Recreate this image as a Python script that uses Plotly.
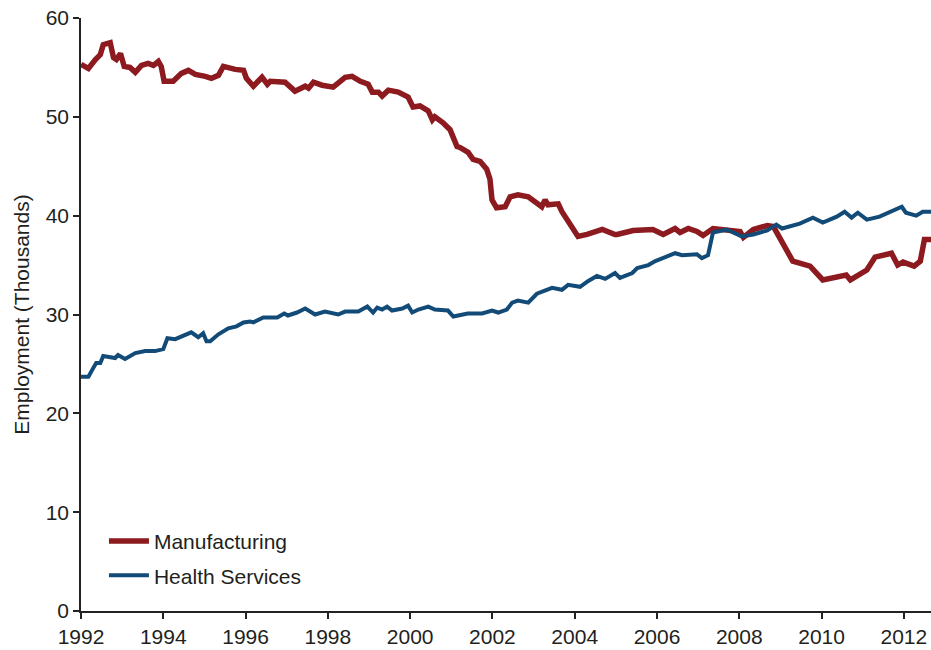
import plotly.graph_objects as go

# Manufacturing employment (thousands), decimal years
manufacturing_years = [
    1992.0, 1992.18, 1992.35, 1992.47, 1992.54, 1992.71, 1992.79, 1992.86, 1992.96, 1993.05,
    1993.19, 1993.32, 1993.47, 1993.63, 1993.76, 1993.88, 1993.95, 1994.02, 1994.24, 1994.44,
    1994.61, 1994.78, 1995.02, 1995.17, 1995.34, 1995.46, 1995.75, 1995.95, 1996.02, 1996.19,
    1996.4, 1996.53, 1996.6, 1996.96, 1997.2, 1997.45, 1997.53, 1997.65, 1997.86, 1998.13,
    1998.42, 1998.59, 1998.79, 1998.98, 1999.08, 1999.23, 1999.32, 1999.47, 1999.71, 1999.95,
    2000.07, 2000.24, 2000.44, 2000.54, 2000.6, 2000.8, 2000.97, 2001.14, 2001.21, 2001.41,
    2001.53, 2001.7, 2001.86, 2001.94, 2001.99, 2002.1, 2002.31, 2002.43, 2002.62, 2002.87,
    2003.2, 2003.28, 2003.35, 2003.6, 2003.69, 2003.84, 2004.08, 2004.3, 2004.49, 2004.67,
    2004.98, 2005.03, 2005.42, 2005.9, 2006.15, 2006.44, 2006.56, 2006.76, 2006.97, 2007.12,
    2007.36, 2007.85, 2008.02, 2008.1, 2008.34, 2008.68, 2008.83, 2009.3, 2009.72, 2010.03,
    2010.3, 2010.6, 2010.7, 2011.1, 2011.3, 2011.7, 2011.85, 2011.98, 2012.25, 2012.4,
    2012.5, 2012.66,
]
manufacturing_values = [
    55.3, 54.9, 55.8, 56.3, 57.3, 57.5, 56.0, 55.8, 56.4, 55.1,
    55.0, 54.5, 55.2, 55.4, 55.2, 55.6, 55.1, 53.6, 53.6, 54.4,
    54.7, 54.3, 54.1, 53.9, 54.2, 55.1, 54.8, 54.7, 53.9, 53.1,
    54.0, 53.3, 53.6, 53.5, 52.6, 53.1, 52.9, 53.5, 53.2, 53.0,
    54.0, 54.1, 53.6, 53.3, 52.5, 52.5, 52.1, 52.7, 52.5, 52.0,
    51.0, 51.1, 50.6, 49.7, 50.0, 49.4, 48.7, 47.0, 46.9, 46.4,
    45.7, 45.5, 44.7, 43.7, 41.6, 40.8, 40.9, 41.9, 42.1, 41.9,
    40.9, 41.6, 41.1, 41.2, 40.4, 39.4, 37.9, 38.1, 38.3, 38.6,
    38.1, 38.1, 38.5, 38.6, 38.1, 38.7, 38.3, 38.7, 38.4, 38.0,
    38.7, 38.5, 38.4, 37.8, 38.6, 39.0, 38.9, 35.4, 34.9, 33.5,
    33.8, 34.0, 33.5, 34.5, 35.8, 36.2, 35.0, 35.3, 34.9, 35.4,
    37.6, 37.6,
]

# Health services employment (thousands), decimal years
health_years = [
    1992.0, 1992.18, 1992.3, 1992.37, 1992.47, 1992.54, 1992.83, 1992.9, 1993.07, 1993.32,
    1993.56, 1993.8, 1994.0, 1994.1, 1994.29, 1994.53, 1994.68, 1994.85, 1994.97, 1995.05,
    1995.14, 1995.34, 1995.58, 1995.78, 1995.95, 1996.11, 1996.19, 1996.43, 1996.77, 1996.94,
    1997.03, 1997.25, 1997.45, 1997.69, 1997.93, 1998.25, 1998.42, 1998.74, 1998.96, 1999.1,
    1999.2, 1999.32, 1999.44, 1999.56, 1999.81, 1999.95, 2000.05, 2000.2, 2000.44, 2000.6,
    2000.92, 2001.05, 2001.4, 2001.75, 2001.99, 2002.14, 2002.35, 2002.48, 2002.62, 2002.87,
    2003.08, 2003.45, 2003.69, 2003.84, 2004.13, 2004.33, 2004.54, 2004.74, 2004.98, 2005.1,
    2005.4, 2005.52, 2005.79, 2005.96, 2006.44, 2006.61, 2006.97, 2007.09, 2007.24, 2007.36,
    2007.7, 2007.85, 2008.06, 2008.34, 2008.68, 2008.9, 2009.04, 2009.47, 2009.79, 2010.03,
    2010.37, 2010.56, 2010.73, 2010.88, 2011.1, 2011.41, 2011.73, 2011.95, 2012.05, 2012.3,
    2012.46, 2012.66,
]
health_values = [
    23.7, 23.7, 24.6, 25.1, 25.1, 25.8, 25.6, 25.9, 25.5, 26.1,
    26.3, 26.3, 26.5, 27.6, 27.5, 28.0, 28.2, 27.7, 28.1, 27.3,
    27.3, 28.0, 28.6, 28.8, 29.2, 29.3, 29.2, 29.7, 29.7, 30.1,
    29.9, 30.2, 30.6, 30.0, 30.3, 30.0, 30.3, 30.3, 30.8, 30.2,
    30.7, 30.5, 30.8, 30.4, 30.6, 30.9, 30.2, 30.5, 30.8, 30.5,
    30.4, 29.8, 30.1, 30.1, 30.4, 30.2, 30.5, 31.2, 31.4, 31.2,
    32.1, 32.7, 32.5, 33.0, 32.8, 33.4, 33.9, 33.6, 34.2, 33.7,
    34.2, 34.7, 35.0, 35.4, 36.2, 36.0, 36.1, 35.7, 36.0, 38.3,
    38.6, 38.3, 37.9, 38.1, 38.5, 39.1, 38.7, 39.2, 39.8, 39.3,
    39.9, 40.4, 39.8, 40.3, 39.6, 39.9, 40.5, 40.9, 40.3, 40.0,
    40.4, 40.4,
]

x_ticks = [1992, 1994, 1996, 1998, 2000, 2002, 2004, 2006, 2008, 2010, 2012]
y_ticks = [0, 10, 20, 30, 40, 50, 60]

FONT = "Liberation Sans, Arial, sans-serif"
TEXT = "#231f20"
FS = 21

fig = go.Figure()
fig.add_trace(go.Scatter(
    x=manufacturing_years, y=manufacturing_values, mode="lines",
    name="Manufacturing", legendgroup="m",
    line=dict(color="#8c1a1f", width=5.5),
))
fig.add_trace(go.Scatter(
    x=health_years, y=health_values, mode="lines",
    name="Health Services", legendgroup="h",
    line=dict(color="#124b78", width=4),
))

fig.update_layout(
    width=931, height=650,
    margin=dict(l=81, r=0, t=18, b=39),
    paper_bgcolor="white", plot_bgcolor="white",
    font=dict(family=FONT, color=TEXT, size=FS),
    showlegend=True,
    legend=dict(
        x=0.027, y=0.152, xanchor="left", yanchor="top",
        bgcolor="rgba(0,0,0,0)", font=dict(size=FS, color=TEXT),
        tracegroupgap=4, itemwidth=40,
    ),
    xaxis=dict(
        range=[1992, 2012.66], tickmode="array", tickvals=x_ticks,
        ticktext=[str(t) for t in x_ticks],
        showgrid=False, zeroline=False, showline=True,
        linecolor="#222", linewidth=1.5,
        ticks="outside", ticklen=6, tickcolor="#222", tickwidth=1.5,
        tickfont=dict(size=FS, color=TEXT, family=FONT),
    ),
    yaxis=dict(
        range=[0, 60], tickmode="array", tickvals=y_ticks,
        showgrid=False, zeroline=False, showline=True,
        linecolor="#222", linewidth=1.5,
        ticks="outside", ticklen=6, tickcolor="#222", tickwidth=1.5,
        tickfont=dict(size=FS, color=TEXT, family=FONT),
        title=dict(text="Employment (Thousands)", font=dict(size=FS, color=TEXT, family=FONT), standoff=10),
    ),
)

fig.write_html("out.html", config={"displayModeBar": False},
               post_script="document.body.style.margin='0';")
